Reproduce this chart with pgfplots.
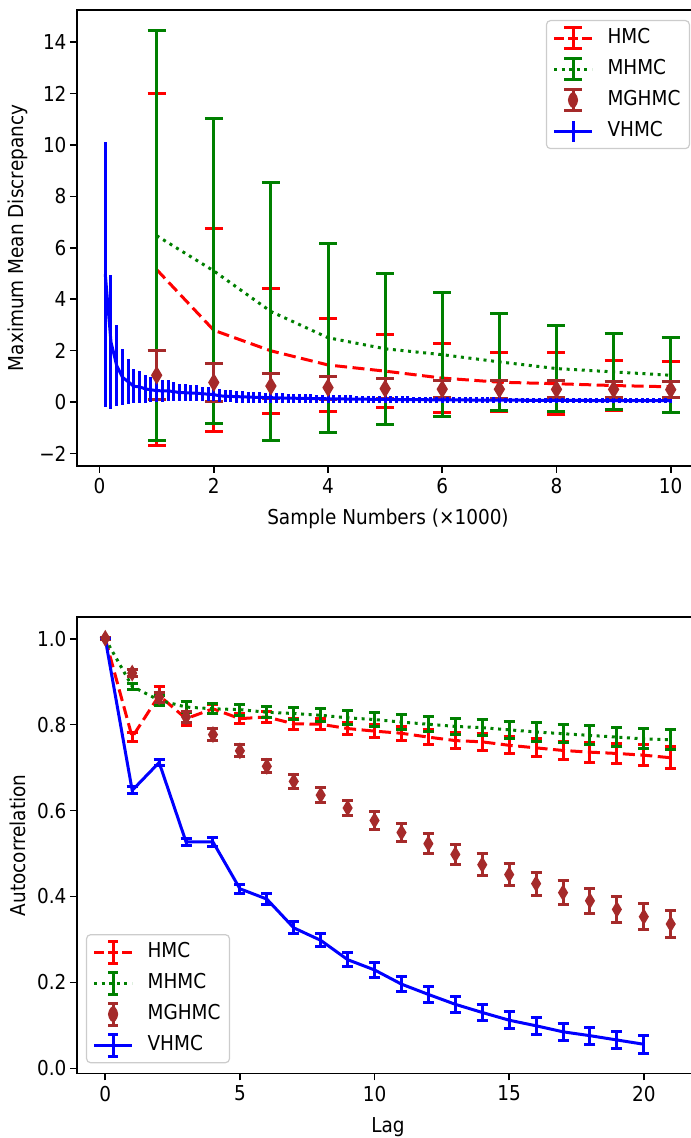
\documentclass[border=0pt]{standalone}
\usepackage{fontspec}
\setmainfont{DejaVu Sans}[FakeStretch=0.9]
\usepackage{pgfplots}
\usepackage{pgfplotstable}
\pgfplotsset{compat=1.18}
\definecolor{mred}{RGB}{255,0,0}
\definecolor{mgreen}{RGB}{0,128,0}
\definecolor{mbrown}{RGB}{165,42,42}
\definecolor{mblue}{RGB}{0,0,255}

\pgfdeclareplotmark{thindiamond}{%
  \pgfpathmoveto{\pgfqpoint{0pt}{\pgfplotmarksize}}%
  \pgfpathlineto{\pgfqpoint{0.6\pgfplotmarksize}{0pt}}%
  \pgfpathlineto{\pgfqpoint{0pt}{-\pgfplotmarksize}}%
  \pgfpathlineto{\pgfqpoint{-0.6\pgfplotmarksize}{0pt}}%
  \pgfpathclose\pgfusepathqfill}

% ---------- top panel data ----------
\pgfplotstableread{
x y e
1 5.15 6.85
2 2.79 3.95
3 1.99 2.43
4 1.44 1.82
5 1.20 1.41
6 0.93 1.35
7 0.77 1.15
8 0.71 1.21
9 0.64 0.97
10 0.59 1.00
}\tophmc
\pgfplotstableread{
x y e
1 6.47 7.97
2 5.10 5.93
3 3.52 5.03
4 2.50 3.67
5 2.07 2.93
6 1.84 2.42
7 1.56 1.90
8 1.30 1.67
9 1.17 1.48
10 1.04 1.46
}\topmhmc
\pgfplotstableread{
x y e
1 1.04 0.96
2 0.76 0.75
3 0.62 0.50
4 0.56 0.45
5 0.52 0.40
6 0.50 0.34
7 0.50 0.35
8 0.49 0.33
9 0.49 0.32
10 0.48 0.31
}\topmghmc
\pgfplotstableread{
x y e
0.1 4.975 5.155
0.2 2.33 2.61
0.3 1.42 1.58
0.4 0.965 1.085
0.5 0.79 0.87
0.6 0.61 0.66
0.7 0.59 0.63
0.8 0.51 0.54
0.9 0.475 0.485
1.0 0.44 0.44
1.1 0.435 0.425
1.2 0.43 0.41
1.3 0.405 0.385
1.4 0.365 0.335
1.5 0.365 0.335
1.6 0.345 0.315
1.7 0.345 0.315
1.8 0.32 0.28
1.9 0.305 0.265
2.0 0.29 0.26
2.1 0.238 0.254
2.2 0.227 0.245
2.3 0.217 0.236
2.4 0.208 0.228
2.5 0.200 0.220
2.6 0.192 0.213
2.7 0.185 0.207
2.8 0.179 0.201
2.9 0.172 0.195
3.0 0.167 0.190
3.1 0.161 0.185
3.2 0.156 0.181
3.3 0.152 0.176
3.4 0.147 0.172
3.5 0.143 0.169
3.6 0.139 0.165
3.7 0.135 0.162
3.8 0.132 0.158
3.9 0.128 0.155
4.0 0.125 0.153
4.1 0.122 0.150
4.2 0.119 0.147
4.3 0.116 0.145
4.4 0.114 0.142
4.5 0.111 0.140
4.6 0.109 0.138
4.7 0.106 0.136
4.8 0.104 0.134
4.9 0.102 0.132
5.0 0.100 0.130
5.1 0.098 0.128
5.2 0.096 0.127
5.3 0.094 0.125
5.4 0.093 0.123
5.5 0.091 0.122
5.6 0.089 0.120
5.7 0.088 0.119
5.8 0.086 0.118
5.9 0.085 0.116
6.0 0.083 0.115
6.1 0.082 0.114
6.2 0.081 0.113
6.3 0.079 0.111
6.4 0.078 0.110
6.5 0.077 0.109
6.6 0.076 0.108
6.7 0.075 0.107
6.8 0.074 0.106
6.9 0.072 0.105
7.0 0.071 0.104
7.1 0.070 0.103
7.2 0.069 0.103
7.3 0.068 0.102
7.4 0.068 0.101
7.5 0.067 0.100
7.6 0.066 0.099
7.7 0.065 0.098
7.8 0.064 0.098
7.9 0.063 0.097
8.0 0.063 0.096
8.1 0.062 0.096
8.2 0.061 0.095
8.3 0.060 0.094
8.4 0.060 0.094
8.5 0.059 0.093
8.6 0.058 0.092
8.7 0.057 0.092
8.8 0.057 0.091
8.9 0.056 0.091
9.0 0.056 0.090
9.1 0.055 0.089
9.2 0.054 0.089
9.3 0.054 0.088
9.4 0.053 0.088
9.5 0.053 0.087
9.6 0.052 0.087
9.7 0.052 0.086
9.8 0.051 0.086
9.9 0.051 0.085
10.0 0.050 0.085
}\topvhmc

% ---------- bottom panel data ----------
\pgfplotstableread{
x y e
0 1.000 0.000
1 0.771 0.011
2 0.868 0.020
3 0.814 0.017
4 0.837 0.010
5 0.814 0.012
6 0.818 0.012
7 0.802 0.013
8 0.801 0.013
9 0.791 0.014
10 0.785 0.015
11 0.780 0.016
12 0.771 0.017
13 0.763 0.018
14 0.760 0.019
15 0.752 0.020
16 0.746 0.021
17 0.740 0.022
18 0.736 0.023
19 0.733 0.024
20 0.729 0.025
21 0.723 0.026
}\bothmc
\pgfplotstableread{
x y e
0 1.000 0.000
1 0.889 0.008
2 0.857 0.012
3 0.841 0.012
4 0.837 0.012
5 0.835 0.013
6 0.829 0.013
7 0.826 0.014
8 0.822 0.015
9 0.816 0.016
10 0.812 0.017
11 0.806 0.017
12 0.801 0.018
13 0.796 0.019
14 0.793 0.019
15 0.788 0.020
16 0.783 0.021
17 0.779 0.021
18 0.775 0.022
19 0.771 0.022
20 0.767 0.023
21 0.765 0.023
}\botmhmc
\pgfplotstableread{
x y e
0 1.001 0.003
1 0.920 0.008
2 0.864 0.012
3 0.818 0.013
4 0.777 0.013
5 0.739 0.014
6 0.703 0.015
7 0.668 0.016
8 0.636 0.017
9 0.606 0.018
10 0.577 0.020
11 0.549 0.022
12 0.523 0.023
13 0.498 0.024
14 0.474 0.025
15 0.451 0.026
16 0.430 0.027
17 0.409 0.028
18 0.390 0.029
19 0.370 0.030
20 0.353 0.030
21 0.336 0.031
}\botmghmc
\pgfplotstableread{
x y e
0 1.000 0.000
1 0.647 0.008
2 0.712 0.008
3 0.527 0.008
4 0.527 0.010
5 0.418 0.011
6 0.394 0.013
7 0.327 0.014
8 0.298 0.015
9 0.253 0.016
10 0.229 0.017
11 0.196 0.018
12 0.172 0.018
13 0.149 0.019
14 0.130 0.019
15 0.112 0.020
16 0.099 0.020
17 0.085 0.020
18 0.076 0.020
19 0.066 0.020
20 0.056 0.021
}\botvhmc

\pgfplotsset{
  panel/.style={
    scale only axis, width=622bp, height=456bp,
    enlargelimits=false,
    tick align=outside, xtick pos=bottom, ytick pos=left,
    major tick length=7bp,
    tick style={black, line width=1.6bp},
    axis line style={line width=1.6bp},
    xticklabel style={yshift=-2bp},
    legend cell align=left,
    legend style={draw=black!20, line width=1.2bp, rounded corners=4bp, fill=white,
      inner xsep=6bp, inner ysep=5bp, row sep=6bp,
      nodes={inner sep=3bp, text height=15bp, text depth=4bp},
      /tikz/every odd column/.append style={column sep=11bp}},
  },
  ebar/.style n args={2}{
    /pgfplots/error bars/y dir=both,
    /pgfplots/error bars/y explicit,
    /pgfplots/error bars/error mark=|,
    /pgfplots/error bars/error mark options={#1, solid, line width=3bp, mark size=#2},
    /pgfplots/error bars/error bar style={#1, solid, line width=3bp},
  },
  ebarnocap/.style={
    /pgfplots/error bars/y dir=both,
    /pgfplots/error bars/y explicit,
    /pgfplots/error bars/error mark=none,
    /pgfplots/error bars/error bar style={#1, solid, line width=3bp},
  },
}

\begin{document}
\begin{tikzpicture}[font=\fontsize{20.5bp}{24bp}\selectfont]
\useasboundingbox (-77bp,-64.7bp) rectangle (614bp,1073.3bp);
\clip (-77bp,-64.7bp) rectangle (614bp,1073.3bp);

% ================= top panel =================
\begin{axis}[panel,
  at={(0bp,607.3bp)}, anchor=south west,
  xmin=-0.395, xmax=10.495, ymin=-2.49, ymax=15.25,
  xtick={0,2,4,6,8,10}, xticklabels={0,2,4,6,8,10},
  ytick={-2,0,2,4,6,8,10,12,14}, yticklabels={−2,0,2,4,6,8,10,12,14},
  xlabel={Sample Numbers (×1000)},
  ylabel={Maximum Mean Discrepancy},
  xlabel style={at={(axis description cs:0.5,-0.116)}, anchor=center},
  ylabel style={at={(axis description cs:-0.095,0.5)}, anchor=center},
  legend style={at={(axis description cs:1,1)}, anchor=north east, xshift=-9bp, yshift=-10bp},
]
\addplot[mred, line width=3bp, dash pattern=on 12bp off 5.5bp, mark=none,
  ebar={mred}{9bp},
  legend image code/.code={
    \draw[mred, line width=3bp, dash pattern=on 10bp off 4bp] (0bp,0bp) -- (38bp,0bp);
    \draw[mred, line width=3bp, solid] (19bp,-10.5bp) -- (19bp,10.5bp)
      (10bp,-10.5bp) -- (28bp,-10.5bp) (10bp,10.5bp) -- (28bp,10.5bp);}]
  table[x=x, y=y, y error=e] {\tophmc};
\addlegendentry{HMC}
\addplot[mgreen, line width=3bp, dash pattern=on 3bp off 4.6bp, mark=none,
  ebar={mgreen}{9bp},
  legend image code/.code={
    \draw[mgreen, line width=3bp, dash pattern=on 3bp off 4.6bp] (0bp,0bp) -- (38bp,0bp);
    \draw[mgreen, line width=3bp, solid] (19bp,-10.5bp) -- (19bp,10.5bp)
      (10bp,-10.5bp) -- (28bp,-10.5bp) (10bp,10.5bp) -- (28bp,10.5bp);}]
  table[x=x, y=y, y error=e] {\topmhmc};
\addlegendentry{MHMC}
\addplot[mbrown, only marks, mark=thindiamond, mark size=9.5bp,
  mark options={solid, fill=mbrown},
  ebar={mbrown}{9bp},
  legend image code/.code={
    \draw[mbrown, line width=3bp, solid] (19bp,-10.5bp) -- (19bp,10.5bp)
      (10bp,-10.5bp) -- (28bp,-10.5bp) (10bp,10.5bp) -- (28bp,10.5bp);
    \fill[mbrown] (19bp,9.5bp) -- (24.7bp,0bp) -- (19bp,-9.5bp) -- (13.3bp,0bp) -- cycle;}]
  table[x=x, y=y, y error=e] {\topmghmc};
\addlegendentry{MGHMC}
\addplot[mblue, line width=3bp, solid, mark=none,
  ebarnocap={mblue},
  legend image code/.code={
    \draw[mblue, line width=3bp, solid] (0bp,0bp) -- (38bp,0bp)
      (19bp,-10.5bp) -- (19bp,10.5bp);}]
  table[x=x, y=y, y error=e] {\topvhmc};
\addlegendentry{VHMC}
\end{axis}

% ================= bottom panel =================
\begin{axis}[panel,
  at={(0bp,0bp)}, anchor=south west,
  xmin=-1.05, xmax=22.05, ymin=-0.0116, ymax=1.050,
  xtick={0,5,10,15,20}, xticklabels={0,5,10,15,20},
  ytick={0,0.2,0.4,0.6,0.8,1.0}, yticklabels={0.0,0.2,0.4,0.6,0.8,1.0},
  xlabel={Lag},
  ylabel={Autocorrelation},
  xlabel style={at={(axis description cs:0.5,-0.1176)}, anchor=center},
  ylabel style={at={(axis description cs:-0.095,0.5)}, anchor=center},
  legend style={at={(axis description cs:0,0)}, anchor=south west, xshift=9bp, yshift=10bp},
]
\addplot[mred, line width=3bp, dash pattern=on 12bp off 5.5bp, mark=none,
  ebar={mred}{5.5bp},
  legend image code/.code={
    \draw[mred, line width=3bp, dash pattern=on 10bp off 4bp] (0bp,0bp) -- (38bp,0bp);
    \draw[mred, line width=3bp, solid] (19bp,-11bp) -- (19bp,11bp)
      (14bp,-11bp) -- (24bp,-11bp) (14bp,11bp) -- (24bp,11bp);}]
  table[x=x, y=y, y error=e] {\bothmc};
\addlegendentry{HMC}
\addplot[mgreen, line width=3bp, dash pattern=on 3bp off 4.6bp, mark=none,
  ebar={mgreen}{5.5bp},
  legend image code/.code={
    \draw[mgreen, line width=3bp, dash pattern=on 3bp off 4.6bp] (0bp,0bp) -- (38bp,0bp);
    \draw[mgreen, line width=3bp, solid] (19bp,-11bp) -- (19bp,11bp)
      (14bp,-11bp) -- (24bp,-11bp) (14bp,11bp) -- (24bp,11bp);}]
  table[x=x, y=y, y error=e] {\botmhmc};
\addlegendentry{MHMC}
\addplot[mbrown, only marks, mark=thindiamond, mark size=8.5bp,
  mark options={solid, fill=mbrown},
  ebar={mbrown}{5.5bp},
  legend image code/.code={
    \draw[mbrown, line width=3bp, solid] (19bp,-11bp) -- (19bp,11bp)
      (14bp,-11bp) -- (24bp,-11bp) (14bp,11bp) -- (24bp,11bp);
    \fill[mbrown] (19bp,9.5bp) -- (24.7bp,0bp) -- (19bp,-9.5bp) -- (13.3bp,0bp) -- cycle;}]
  table[x=x, y=y, y error=e] {\botmghmc};
\addlegendentry{MGHMC}
\addplot[mblue, line width=3bp, solid, mark=none,
  ebar={mblue}{5.5bp},
  legend image code/.code={
    \draw[mblue, line width=3bp, solid] (0bp,0bp) -- (38bp,0bp)
      (19bp,-11bp) -- (19bp,11bp)
      (14bp,-11bp) -- (24bp,-11bp) (14bp,11bp) -- (24bp,11bp);}]
  table[x=x, y=y, y error=e] {\botvhmc};
\addlegendentry{VHMC}
\end{axis}
\end{tikzpicture}
\end{document}
